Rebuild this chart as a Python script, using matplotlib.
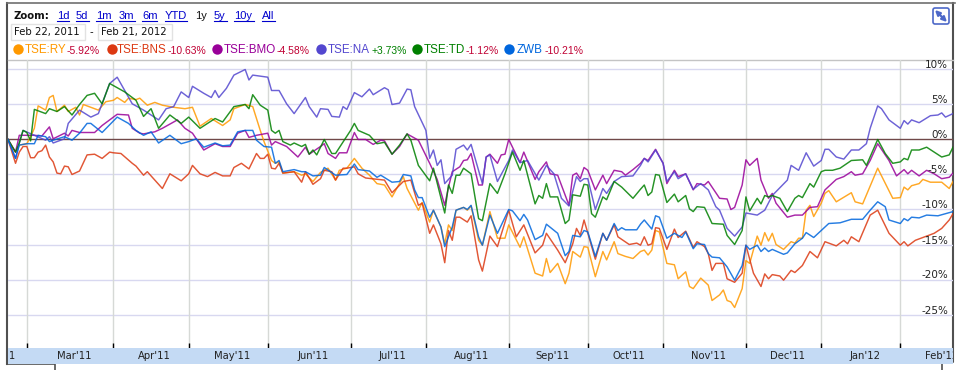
import matplotlib
matplotlib.use('Agg')
import matplotlib.pyplot as plt
from matplotlib.patches import FancyBboxPatch, Rectangle

# Session number (trading day since Feb 22 2011) and % change
ry_days = [0,2,3,5,6,7,8,10,11,12,13,15,16,18,19,20,22,24,26,28,29,31,32,34,35,37,39,41,44,47,49,51,54,57,59,60,63,65,67,68,70,71,72,73,76,78,79,81,83,85,87,88,90,92,94,96,98,100,102,105,106,109,110,112,113,115,116,117,118,119,121,122,123,125,126,128,130,132,133,136,137,140,142,143,144,146,148,149,150,152,153,154,156,158,159,161,162,164,166,168,169,170,171,172,173,175,177,178,180,181,182,184,186,187,189,190,191,192,193,195,196,197,199,200,201,202,203,204,206,208,209,210,211,212,213,214,216,217,218,220,224,225,227,231,235,237,238,239,240,242,243,245,248,250,251]
ry_vals = [0,-1.8,-.8,-.6,.4,1.6,4.8,4.2,6,6.3,4,4.9,4,4.6,3.5,5,4.6,4.2,5.4,5.6,6,5.3,5.9,5.7,5.9,4.9,5.3,4.9,4.6,4.4,4.6,1.9,3,2,2.8,4.4,5,4.7,1.3,-.3,-3,-3.4,-3.2,-4.8,-4.6,-5.1,-4.9,-6,-4.7,-4.1,-5.8,-4.4,-4.1,-2.7,-4.1,-5.1,-6.3,-6.5,-8.2,-5.3,-7,-10.1,-9,-11.8,-10.1,-12.5,-14.9,-12.2,-13,-10.1,-9.7,-10.1,-9.5,-14.4,-15.1,-10.3,-14.1,-14.1,-12.2,-15.4,-13.9,-19.1,-19.5,-17,-19,-17.7,-20.6,-19.1,-16,-16.8,-15.3,-15.4,-19.6,-16,-17.2,-14.6,-16.3,-16.7,-17,-16,-15.8,-16.5,-15.8,-13,-13.2,-17.7,-17.9,-19.9,-18.9,-21,-21.3,-19.8,-20.8,-23,-22.2,-21.5,-23,-23.2,-24,-21.3,-17.3,-17.7,-13.8,-15.1,-13.3,-14.5,-13.4,-15,-15.7,-14.6,-14.8,-14.1,-14.1,-10.1,-9.4,-11,-9.1,-7.7,-7.3,-8.9,-7.6,-8.9,-9.2,-4.1,-8.4,-8.3,-6.8,-7.2,-6.6,-6.3,-5.7,-6.1,-6.1,-7,-6]

bns_days = [0,2,3,4,5,6,7,8,9,10,11,12,13,14,15,16,17,19,21,23,25,27,28,30,33,34,36,37,39,41,43,46,48,49,51,53,55,57,59,60,62,64,66,67,68,69,70,71,72,73,76,78,79,81,83,84,86,87,89,90,92,93,95,100,102,105,107,109,110,112,113,115,116,117,118,119,120,122,123,125,126,128,130,133,135,137,140,142,143,146,148,150,151,152,153,156,158,159,161,162,165,167,168,169,170,171,172,173,175,177,178,180,182,183,185,186,187,188,190,191,193,195,196,198,200,201,202,203,205,206,208,209,211,213,215,217,220,222,223,224,226,229,231,234,237,238,239,241,244,246,248,250,251]
bns_vals = [0,-3.4,-1.8,-1,-1,-2.6,-2.6,-1.8,-1.6,-.8,-2.5,-3.2,-4.8,-4.9,-3.8,-3.9,-5,-4.5,-2.2,-2.1,-2.7,-1.8,-1.9,-2,-3.4,-3.8,-5.1,-4.6,-5.8,-7,-4.9,-5.9,-4.9,-3.7,-4.9,-5.3,-4.7,-5.2,-5.2,-4,-3.4,-4.2,-2,-2.7,-2.7,-2.1,-4.1,-4.2,-3.4,-4.8,-4.6,-6.1,-4.6,-6.4,-5.6,-4.4,-4.6,-5.8,-4.1,-4.1,-3.9,-4.9,-5.5,-5.8,-7.6,-6,-5.8,-9.4,-9.1,-13.4,-12.2,-14.9,-17.6,-13,-14.4,-11.1,-11.1,-11.8,-10.9,-17.2,-18.8,-13.8,-15.3,-10.1,-13.9,-12.2,-16.2,-15.1,-13.4,-15.8,-17.6,-14.9,-12.7,-13.7,-11.5,-17.1,-13.4,-14.4,-12.2,-13.9,-15,-14.8,-15.1,-13.9,-15.1,-14.9,-12.6,-12.7,-15.7,-12.8,-14,-13.1,-15.4,-14.6,-15.3,-16.3,-18.7,-17.7,-17.7,-19.9,-20.4,-19.1,-15.1,-19.1,-21,-19.2,-19.9,-19.3,-19.5,-20.1,-18.7,-19,-18,-16,-16.9,-14.6,-15.2,-14.4,-14.9,-13.9,-14.6,-10.8,-10.1,-13.4,-15.1,-14.6,-15.2,-14.4,-13.8,-13.4,-12.7,-11.5,-10.6]

bmo_days = [0,2,3,5,7,9,11,12,15,16,17,19,23,25,29,32,33,35,36,39,41,45,47,49,52,55,57,59,61,63,64,66,69,70,71,74,77,79,80,83,84,85,87,88,90,92,93,95,97,99,100,102,104,106,109,112,114,116,117,118,120,121,122,123,125,126,127,128,130,131,132,133,136,137,140,141,143,144,146,149,150,151,152,153,154,156,158,159,161,163,164,166,168,169,170,172,174,175,177,178,180,182,183,185,186,189,191,192,193,195,196,197,199,200,202,203,204,207,209,211,213,215,217,220,222,224,225,227,229,231,234,236,238,239,240,242,244,246,248,250,251]
bmo_vals = [0,-1.8,.6,.6,.6,.5,1.8,.1,.9,.5,1.3,1,1,2,3.6,3.5,1.6,.9,.8,1.1,1.6,2.8,1.6,.9,-1.5,-.6,-1,-1,.9,1.3,.3,.6,.9,-.8,-.3,-1,-2.5,-1.1,-2.1,-1,-.6,-2,-2.7,-1.9,-1.9,1,0,0,-.7,-.1,-.2,-2.1,-1,.8,-.1,-3.4,-5.7,-9.4,-6.8,-4.6,-3.9,-3,-2.9,-2,-6.5,-6.5,-2.5,-2.1,-3.4,-2.2,-2.1,0,-3.3,-1.8,-5.7,-4.6,-3.2,-4.9,-5.1,-9.4,-5.1,-4.8,-5.6,-4,-4.4,-7.2,-5.1,-6.3,-4.4,-4.6,-5.1,-4.3,-3.4,-2.7,-3,-1.4,-3.4,-6.3,-4.4,-5.3,-4.9,-7.2,-6.3,-6.5,-6,-8.4,-8.5,-10,-9.7,-6.5,-2.9,-3.7,-2.7,-5.8,-8.4,-7.7,-9.1,-11.1,-10.8,-10.8,-9.7,-9.6,-7.2,-5.7,-5.3,-4.6,-5.1,-4.9,-3,-.6,-3,-5.2,-4.3,-4.9,-4.4,-5.2,-4.4,-4.9,-5.6,-5.4,-4.8]

na_days = [0,2,3,4,7,10,11,12,15,16,19,22,24,27,29,31,33,36,40,42,44,46,48,49,52,54,55,56,58,60,63,64,65,69,70,72,74,76,79,80,82,83,85,86,88,89,90,92,94,96,97,100,101,102,104,106,107,108,111,112,113,114,115,116,118,119,121,122,123,125,126,127,128,130,133,134,136,138,141,143,145,147,149,151,152,153,154,156,158,159,161,163,166,168,169,170,172,174,175,177,178,180,182,184,186,188,189,191,193,195,196,199,201,203,207,208,210,212,214,216,217,218,220,222,224,226,228,229,231,232,234,237,238,239,240,242,245,247,248,249,251]
na_vals = [0,-2.7,-.5,1.3,.6,-.1,.4,-.5,.1,2.3,4.2,3.2,3.7,8,8.9,7,5.1,4.2,2.8,4.4,4.7,6.8,6,7.6,6.6,6,7,6,7.3,9.2,10,8.5,9.2,8.9,7,7,5.1,3.7,6,4.7,3.2,4.4,4.3,3.3,3.2,4.7,4.3,6.7,6.1,7.2,6.4,7.4,7.1,5,5.2,7.2,7.1,4.7,1.3,-2.7,-1.5,-3.7,-2.9,-6.3,-5.1,-1.4,-.8,-1.5,-.7,-4.4,-6.3,-2.5,-2.2,-6,-3,-1.5,-3.3,-3,-5.8,-3.7,-4.9,-8.4,-9.5,-5.3,-6,-5.6,-5.6,-10,-7,-7.7,-6,-5.3,-5.2,-3.7,-2.7,-3.2,-1.5,-3.4,-6,-4.6,-5.6,-4.9,-7.1,-6.3,-7.2,-9.6,-10.1,-12.7,-13.8,-12.5,-10.5,-10.8,-10.1,-8,-5.8,-3.7,-4.4,-1.9,-3.8,-3,-1.4,-1.4,-2.5,-2.8,-1.5,-1.5,-.6,1.6,4.8,4.4,2.8,1.6,2.7,2.2,2.8,2.4,3.4,3.5,3.8,3.2,3.7]

td_days = [0,2,3,4,5,6,7,8,10,11,13,15,17,19,21,23,25,27,29,31,34,36,38,40,43,46,48,51,55,57,60,63,64,65,67,69,70,71,72,73,75,76,78,79,80,81,82,84,86,87,91,92,93,96,98,100,102,104,106,107,109,112,113,116,117,118,119,120,121,123,125,126,128,130,132,134,136,137,140,141,142,143,144,146,148,149,150,152,153,154,155,156,158,159,161,163,166,168,169,170,171,172,173,175,177,178,180,181,182,183,185,187,190,191,193,195,196,197,199,200,201,202,203,205,207,209,210,211,213,214,216,217,219,221,224,227,228,231,233,235,237,238,239,240,242,244,246,248,250,251]
td_vals = [0,-1.8,-.5,1.3,1,-.2,4.3,4.1,3.7,4.4,4,4.7,3.5,5,6.3,6.6,5.1,8,7.4,6.8,5.6,3.3,4.4,1.6,3.5,2.3,3.2,1.6,3,2.5,4.7,5,4.4,6.4,4.9,4.2,1.3,.9,1.3,-.3,-.8,-.5,-1,-.7,-2.1,-1.5,-2.2,0,-2,-2,1.3,2.3,1.3,.6,-.6,-.4,-2.1,-.8,.8,-.1,-3.7,-5.9,-4.1,-10.5,-6.5,-7.7,-5.1,-5.1,-4.1,-4.9,-11.3,-11.6,-6.3,-7.7,-4.9,-1.8,-4.4,-3,-9.2,-8,-8.4,-6.3,-8.2,-8.2,-12,-11.5,-7.9,-8.1,-6.4,-6.5,-10.6,-11.1,-8.2,-8.6,-6,-6.8,-8.4,-7.1,-6.5,-8,-7.5,-5,-5.1,-9,-7.8,-8.9,-8,-9.9,-10.3,-9.6,-9.7,-12,-12.1,-13.7,-15,-13,-8.2,-10.2,-8.4,-9.2,-8,-8.2,-8,-8.4,-10.3,-8.4,-8,-8.3,-6.3,-6.8,-4.6,-4.4,-4.4,-4.1,-3,-2.9,-3.7,0,-2,-3.4,-3.2,-2.7,-2.9,-1.5,-1.5,-1.1,-1.8,-2.5,-2.2,-1.1]

zwb_days = [0,2,3,5,7,8,10,11,12,15,17,19,21,22,25,29,32,34,36,38,40,43,46,48,50,52,55,57,59,61,63,65,66,68,70,71,72,73,76,78,79,81,83,84,87,90,92,93,96,98,99,102,104,105,107,108,109,110,112,113,115,116,118,119,121,122,123,125,126,128,130,133,134,136,137,138,140,142,143,146,148,149,150,152,153,154,156,158,159,161,162,163,164,167,168,169,171,172,173,175,177,179,180,182,183,185,186,187,189,191,193,195,196,197,199,200,201,202,203,206,207,209,211,212,214,216,218,221,224,227,229,231,233,234,237,238,239,240,242,244,247,249,251]
zwb_vals = [0,-2.7,-.8,-.6,-.6,.6,.4,-.3,-.1,.4,-.1,.9,2.3,2.3,1,3.2,2.3,1.3,.6,1.1,-.5,.6,-.6,-.3,.1,-1.1,-.5,-.9,-.8,1.1,1.3,1.3,-.1,-1,-1.1,-3.4,-3,-4.6,-4.3,-4.6,-4.6,-5.2,-5.1,-4,-5.1,-5,-3.5,-4.3,-4.5,-5.4,-5.1,-6.1,-6,-5,-5.2,-7.2,-8.3,-8.3,-11.1,-10.1,-12.5,-15.3,-12.5,-10.1,-9.7,-10,-9.4,-13.9,-15.1,-10.8,-13.4,-10,-10.2,-11.6,-10.7,-11.5,-14.3,-13.7,-12.1,-13.4,-16.6,-16,-13.7,-13.9,-13,-13.2,-16.7,-13.4,-14.4,-12,-13,-12.6,-12.9,-12.9,-12.1,-11.5,-12.8,-10.9,-11.1,-14.1,-13.4,-14,-13.2,-15.6,-14.9,-15,-16.3,-16.8,-16.9,-18.2,-20.1,-18,-15.1,-15.7,-15.1,-16,-15.5,-16,-15.7,-16.4,-16.2,-14.9,-14.1,-13.3,-14,-13,-12,-11.9,-11.4,-11.4,-10.1,-8.9,-9.6,-11.5,-12,-11.3,-11.6,-11.1,-11.2,-10.8,-10.9,-10.6,-10.3]

# Legend
names = ['TSE:RY', 'TSE:BNS', 'TSE:BMO', 'TSE:NA', 'TSE:TD', 'ZWB']
changes = ['-5.92%', '-10.63%', '-4.58%', '+3.73%', '-1.12%', '-10.21%']

# Axis labels
y_ticks = [10, 5, 0, -5, -10, -15, -20, -25]
month_starts = [-12, 5, 28, 48, 69, 91, 111, 133, 154, 174, 196, 216, 237, 257]
month_labels = ["Feb'11", "Mar'11", "Apr'11", "May'11", "Jun'11", "Jul'11", "Aug'11", "Sep'11", "Oct'11", "Nov'11", "Dec'11", "Jan'12", "Feb'12"]

# Header controls
zoom_links = ['1d', '5d', '1m', '3m', '6m', 'YTD', '1y', '5y', '10y', 'All']
date_from = 'Feb 22, 2011'
date_to = 'Feb 21, 2012'

colors = ['#ff9900', '#dc3912', '#990099', '#5347cf', '#008000', '#0066dd']
W, H = 961, 370

fig = plt.figure(figsize=(W / 100, H / 100), dpi=100)

# Page axes in pixels, for the frame and the header
page = fig.add_axes([0, 0, 1, 1])
page.set_xlim(0, W)
page.set_ylim(H, 0)
page.axis('off')

# Main chart axes
ax = fig.add_axes([8 / W, (H - 348) / H, 945 / W, 288 / H])
ax.set_xlim(0, 251)
ax.set_ylim((139.5 - 348) / 7, (139.5 - 60) / 7)
ax.patch.set_alpha(0)
for side in ax.spines.values():
    side.set_visible(False)
ax.tick_params(left=False, bottom=False, labelleft=False, labelbottom=False)

# Grid lines
for y in y_ticks:
    if y != 0:
        ax.axhline(y, color='#d8d8f0', lw=1.0, zorder=1)
for m in month_starts[1:-1]:
    ax.axvline(m, color='#d6d9d6', lw=1.0, zorder=1)
ax.axhline(0, color='#704848', lw=1.0, zorder=2)

# Series
series = [(ry_days, ry_vals), (bns_days, bns_vals), (bmo_days, bmo_vals),
          (na_days, na_vals), (td_days, td_vals), (zwb_days, zwb_vals)]
for (days, vals), color in zip(series, colors):
    ax.plot(days, vals, color=color, lw=1.05, alpha=0.85, zorder=3, solid_joinstyle='round')

# Percent labels above the grid lines
for y in y_ticks:
    ax.annotate('%d%%' % y, (251, y), xytext=(-5, 4), textcoords='offset pixels', ha='right', va='center',
                fontsize=7.5, color='#222222', zorder=5)

# Month band under the chart
band = fig.add_axes([8 / W, (H - 364) / H, 945 / W, 16 / H])
band.set_xlim(0, 251)
band.set_ylim(0, 1)
band.set_facecolor('#c4daf4')
for side in band.spines.values():
    side.set_visible(False)
band.tick_params(left=False, bottom=False, labelleft=False, labelbottom=False)
for i, label in enumerate(month_labels):
    pos = (month_starts[i] + month_starts[i + 1]) / 2 + 1
    band.text(pos, 0.47, label, ha='center', va='center', fontsize=7.2, color='#222222', clip_on=True)
for m in month_starts[1:-1]:
    ax.plot([m, m], [0, 5 / 288], transform=ax.get_xaxis_transform(), color='black', lw=1.0, zorder=4, solid_capstyle='butt')

# Frame around the chart
page.plot([7, 7], [3, 364], color='#505050', lw=1.5)
page.plot([953, 953], [3, 361], color='#505050', lw=1.5)
page.plot([7, 955], [3, 3], color='#707070', lw=1.2)
page.plot([7, 55, 55], [364, 364, 370], color='#505050', lw=1.2)
page.plot([942, 953], [361.5, 361.5], color='#505050', lw=1.2)
page.plot([942, 942], [361.5, 370], color='#505050', lw=1.2)
page.plot([8, 953], [59.5, 59.5], color='#c4c4c4', lw=1.0)

# Zoom row
page.text(13, 16, 'Zoom:', fontsize=7.3, fontweight='bold', va='center', color='#111111')
link_lefts = [57, 76, 96, 119, 142, 165, 195, 214, 234, 262]
link_rights = [69, 89, 112, 135, 157, 187, 207, 227, 254, 275]
for label, left, right in zip(zoom_links, link_lefts, link_rights):
    if label == '1y':
        page.text(left, 16, label, fontsize=8, va='center', family='Liberation Sans', color='#111111')
    else:
        page.text(left, 16, label, fontsize=8, va='center', family='Liberation Sans', color='#0000cc')
        page.plot([left, right], [20.5, 20.5], color='#0000cc', lw=0.8)

# Date boxes
for left, right, text in [(11, 85, date_from), (98, 172, date_to)]:
    page.add_patch(Rectangle((left, 24), right - left, 16, fc='white', ec='#e2e2e2', lw=1.0))
    page.text(left + 3, 32.5, text, fontsize=7.3, va='center', color='#111111')
page.text(91, 32.5, '-', fontsize=7.3, va='center', ha='center', color='#111111')

# Legend row
dot_x = [18, 112, 217, 321, 417, 509]
name_x = [25, 117, 224, 328, 424, 517]
change_x = [67, 168, 277, 372, 466, 545]
for i in range(len(names)):
    page.plot(dot_x[i], 49, 'o', color=colors[i], ms=7.5, mew=0)
    page.text(name_x[i], 50, names[i], fontsize=8.4, va='center', family='Liberation Sans', color=colors[i])
    change_color = '#008000' if changes[i].startswith('+') else '#c00033'
    page.text(change_x[i], 50.5, changes[i], fontsize=7.5, va='center', family='Liberation Sans', color=change_color)

# Expand icon, top right
page.add_patch(FancyBboxPatch((933, 8), 16, 16, boxstyle='round,pad=0,rounding_size=2', fc='white', ec='#4d68c8', lw=1.2))
page.annotate('', xy=(947, 22), xytext=(935, 10),
              arrowprops=dict(arrowstyle='<|-|>', color='#4d68c8', lw=1.6, mutation_scale=7, shrinkA=0, shrinkB=0))

plt.savefig('out.png', dpi=100)
